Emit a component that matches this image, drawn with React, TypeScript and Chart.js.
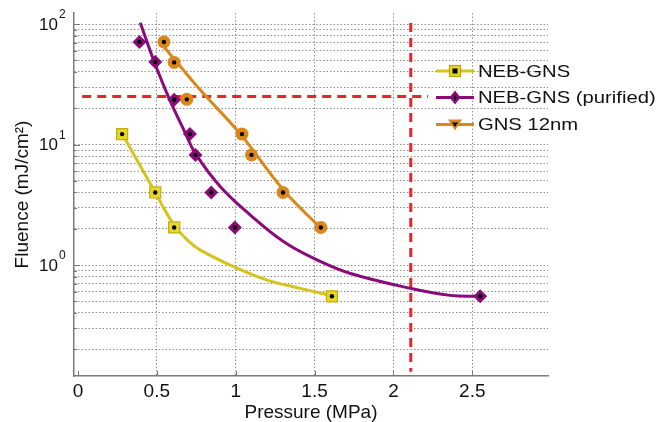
import React, { useEffect, useRef } from 'react';
import { Chart, registerables } from 'chart.js';

Chart.register(...registerables);

// ---- axis ticks ----
const xTickValues = [0, 0.5, 1, 1.5, 2, 2.5];
const xTickLabels = ['0', '0.5', '1', '1.5', '2', '2.5'];
const yGridValues = [0.2, 0.3, 0.4, 0.5, 0.6, 0.7, 0.8, 0.9, 1, 2, 3, 4, 5, 6, 7, 8, 9, 10, 20, 30, 40, 50, 60, 70, 80, 90, 100];
const yLabelValues = [1, 10, 100];
const yLabelExps = ['0', '1', '2'];

// ---- series names ----
const seriesNames = ['NEB-GNS', 'NEB-GNS (purified)', 'GNS 12nm'];

// ---- measured points ----
const nebX = [0.28, 0.49, 0.61, 1.61];
const nebY = [12.2, 4.0, 2.05, 0.55];
const purX = [0.39, 0.49, 0.61, 0.71, 0.745, 0.845, 0.995, 2.55];
const purY = [71, 48.5, 23.5, 12.2, 8.2, 4.0, 2.05, 0.55];
const gnsX = [0.545, 0.61, 0.69, 1.04, 1.1, 1.3, 1.54];
const gnsY = [71, 48, 23.7, 12.2, 8.2, 4.0, 2.05];

// ---- fitted curves ----
const nebFitX = [0.285, 0.49, 0.605, 0.694, 0.776, 0.987, 1.2, 1.41, 1.6];
const nebFitY = [12.0, 4.0, 2.19, 1.61, 1.33, 0.97, 0.75, 0.64, 0.56];
const purFitX = [0.395, 0.48, 0.573, 0.681, 0.744, 0.903, 1.093, 1.305, 1.517, 1.728, 2.11, 2.36, 2.55];
const purFitY = [102.5, 50, 25, 12.4, 8.45, 4.47, 2.6, 1.56, 1.1, 0.85, 0.64, 0.56, 0.55];
const gnsFitX = [0.541, 0.776, 1.03, 1.303, 1.537];
const gnsFitY = [65.7, 28.3, 12.2, 4.19, 2.03];

// ---- reference lines ----
const hLineX = [0.027, 2.22];
const hLineY = [25, 25];
const vLineX = [2.11, 2.11];
const vLineY = [102, 0.13];

const zip = (xs: number[], ys: number[]) => xs.map((x, i) => ({ x, y: ys[i] }));

const YELLOW = '#d6c41e';
const YELLOW_FILL = '#e8d62a';
const PURPLE = '#8a0a7a';
const ORANGE = '#dc871a';
const RED = '#e8232b';
const GRID = '#8e8e8e';
const FONT = '"Liberation Sans", Arial, Helvetica, sans-serif';

const decorPlugin = {
  id: 'decor',
  afterDatasetsDraw(chart: any) {
    const ctx = chart.ctx;
    ctx.save();
    chart.data.datasets.forEach((ds: any, i: number) => {
      if (!ds.centerDot) return;
      const meta = chart.getDatasetMeta(i);
      meta.data.forEach((el: any) => {
        ctx.beginPath();
        ctx.fillStyle = '#000';
        ctx.arc(el.x, el.y, 2.2, 0, Math.PI * 2);
        ctx.fill();
      });
    });
    ctx.restore();
  },
  afterDraw(chart: any) {
    const ctx = chart.ctx;
    const xs = chart.scales.x;
    const ys = chart.scales.y;
    const area = chart.chartArea;
    ctx.save();
    // inner tick marks
    ctx.strokeStyle = '#777';
    ctx.lineWidth = 1;
    xTickValues.forEach((v) => {
      const px = Math.round(xs.getPixelForValue(v)) + 0.5;
      ctx.beginPath();
      ctx.moveTo(px, area.bottom);
      ctx.lineTo(px, area.bottom - 5);
      ctx.stroke();
    });
    yGridValues.forEach((v) => {
      const py = Math.round(ys.getPixelForValue(v)) + 0.5;
      const len = yLabelValues.includes(v) ? 6 : 3;
      ctx.beginPath();
      ctx.moveTo(area.left, py);
      ctx.lineTo(area.left + len, py);
      ctx.stroke();
    });
    // y labels 10^n
    ctx.fillStyle = '#111';
    ctx.textBaseline = 'middle';
    yLabelValues.forEach((v, i) => {
      const py = ys.getPixelForValue(v);
      ctx.font = `17px ${FONT}`;
      ctx.textAlign = 'right';
      ctx.fillText('10', 58, py + 1);
      ctx.font = `12px ${FONT}`;
      ctx.textAlign = 'left';
      ctx.fillText(yLabelExps[i], 59, py - 9);
    });
    // legend
    const colors = [YELLOW, PURPLE, ORANGE];
    const rowsY = [71, 97.5, 124.5];
    seriesNames.forEach((name, i) => {
      const y = rowsY[i];
      ctx.strokeStyle = colors[i];
      ctx.lineWidth = 3;
      ctx.beginPath();
      ctx.moveTo(436, y);
      ctx.lineTo(474, y);
      ctx.stroke();
      const cx = 455;
      if (i === 0) {
        ctx.fillStyle = YELLOW_FILL;
        ctx.strokeStyle = '#b9a510';
        ctx.lineWidth = 1.2;
        ctx.fillRect(cx - 5.5, y - 5.5, 11, 11);
        ctx.strokeRect(cx - 5.5, y - 5.5, 11, 11);
        ctx.fillStyle = '#000';
        ctx.fillRect(cx - 2.5, y - 2.5, 5, 5);
      } else if (i === 1) {
        ctx.fillStyle = PURPLE;
        ctx.beginPath();
        ctx.moveTo(cx, y - 7);
        ctx.lineTo(cx + 5.5, y);
        ctx.lineTo(cx, y + 7);
        ctx.lineTo(cx - 5.5, y);
        ctx.closePath();
        ctx.fill();
        ctx.fillStyle = '#000';
        ctx.beginPath();
        ctx.moveTo(cx, y - 3);
        ctx.lineTo(cx + 1.5, y);
        ctx.lineTo(cx, y + 3);
        ctx.lineTo(cx - 1.5, y);
        ctx.closePath();
        ctx.fill();
      } else {
        ctx.fillStyle = ORANGE;
        ctx.beginPath();
        ctx.moveTo(cx - 7, y - 5);
        ctx.lineTo(cx + 7, y - 5);
        ctx.lineTo(cx, y + 6);
        ctx.closePath();
        ctx.fill();
        ctx.fillStyle = '#000';
        ctx.beginPath();
        ctx.moveTo(cx - 3, y - 2);
        ctx.lineTo(cx + 3, y - 2);
        ctx.lineTo(cx, y + 2.5);
        ctx.closePath();
        ctx.fill();
      }
      ctx.save();
      ctx.translate(478, y + 1);
      ctx.scale(1.19, 1);
      ctx.font = `17px ${FONT}`;
      ctx.fillStyle = '#111';
      ctx.textAlign = 'left';
      ctx.textBaseline = 'middle';
      ctx.fillText(name, 0, 0);
      ctx.restore();
    });
    ctx.restore();
  },
};

export default function App() {
  const ref = useRef<HTMLCanvasElement | null>(null);
  useEffect(() => {
    if (!ref.current) return;
    const gridDash = [1.5, 2];
    const fitLine = (label: string, xs: number[], ys: number[], color: string) => ({
      label,
      data: zip(xs, ys),
      showLine: true,
      pointRadius: 0,
      borderColor: color,
      borderWidth: 3,
      tension: 0.4,
    });
    const chart = new Chart(ref.current, {
      type: 'scatter',
      data: {
        datasets: [
          {
            label: seriesNames[0],
            data: zip(nebX, nebY),
            pointStyle: 'rect',
            pointRadius: 7.8,
            backgroundColor: YELLOW_FILL,
            borderColor: '#c2ae12',
            borderWidth: 1.2,
            showLine: false,
            centerDot: true,
          } as any,
          {
            label: seriesNames[1],
            data: zip(purX, purY),
            pointStyle: 'rectRot',
            pointRadius: 7,
            backgroundColor: PURPLE,
            borderColor: PURPLE,
            borderWidth: 0,
            showLine: false,
            centerDot: true,
          } as any,
          {
            label: seriesNames[2],
            data: zip(gnsX, gnsY),
            pointStyle: 'circle',
            pointRadius: 6.5,
            backgroundColor: ORANGE,
            borderColor: ORANGE,
            borderWidth: 0,
            showLine: false,
            centerDot: true,
          } as any,
          fitLine(seriesNames[0] + ' fit', nebFitX, nebFitY, YELLOW),
          fitLine(seriesNames[1] + ' fit', purFitX, purFitY, PURPLE),
          fitLine(seriesNames[2] + ' fit', gnsFitX, gnsFitY, ORANGE),
          {
            label: 'h-ref',
            data: zip(hLineX, hLineY),
            showLine: true,
            pointRadius: 0,
            borderColor: RED,
            borderWidth: 3,
            borderDash: [9, 6],
          },
          {
            label: 'v-ref',
            data: zip(vLineX, vLineY),
            showLine: true,
            pointRadius: 0,
            borderColor: RED,
            borderWidth: 3,
            borderDash: [9, 6],
          },
        ],
      },
      options: {
        responsive: false,
        animation: false,
        events: [],
        layout: { padding: { top: 13, right: 113, left: 0, bottom: 0 } },
        plugins: {
          legend: { display: false },
          tooltip: { enabled: false },
        },
        scales: {
          x: {
            type: 'linear',
            min: -0.025,
            max: 2.98,
            afterBuildTicks: (s: any) => {
              s.ticks = xTickValues.map((v) => ({ value: v }));
            },
            afterFit: (s: any) => {
              s.height = 46;
            },
            ticks: {
              callback: (v: any) => {
                const i = xTickValues.indexOf(Number(v));
                return i >= 0 ? xTickLabels[i] : '';
              },
              font: { family: FONT, size: 19 },
              color: '#111',
              padding: 4,
              maxRotation: 0,
              autoSkip: false,
            },
            grid: {
              drawTicks: false,
              color: (c: any) => (c.tick && c.tick.value === 0 ? 'rgba(0,0,0,0)' : GRID),
              lineWidth: 1,
            },
            border: { display: true, color: '#7a7a7a', width: 1.5, dash: gridDash },
            title: {
              display: true,
              text: 'Pressure (MPa)',
              font: { family: FONT, size: 19, lineHeight: 1 },
              color: '#111',
              padding: { top: 0, bottom: 0 },
            },
          },
          y: {
            type: 'logarithmic',
            min: 0.12,
            max: 123.4,
            afterBuildTicks: (s: any) => {
              s.ticks = yGridValues.map((v) => ({ value: v }));
            },
            afterFit: (s: any) => {
              s.width = 74;
            },
            ticks: { display: false },
            grid: {
              drawTicks: false,
              color: GRID,
              lineWidth: 1,
            },
            border: { display: true, color: '#7a7a7a', width: 1.5, dash: gridDash },
            title: {
              display: true,
              text: 'Fluence (mJ/cm²)',
              font: { family: FONT, size: 19, lineHeight: 1 },
              color: '#111',
              padding: { top: 13.5, bottom: 0 },
            },
          },
        },
      } as any,
      plugins: [decorPlugin],
    });
    return () => chart.destroy();
  }, []);
  return (
    <div style={{ position: 'fixed', left: 0, top: 0, width: 661, height: 422, background: '#fff' }}>
      <canvas ref={ref} width={661} height={422} style={{ width: 661, height: 422, display: 'block' }} />
    </div>
  );
}
